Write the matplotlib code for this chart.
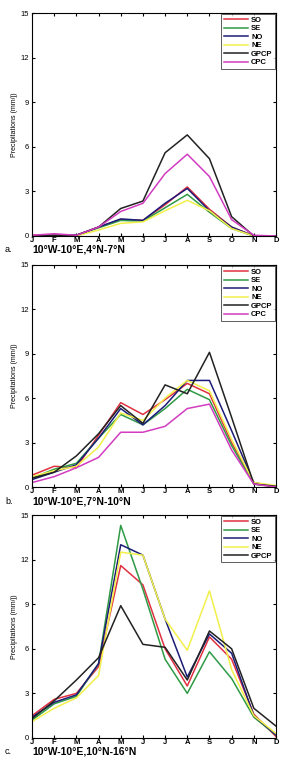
# Monthly precipitation over three latitude bands (3 stacked panels)
import numpy as np
import matplotlib.pyplot as plt

plt.rcParams['font.family'] = ['Liberation Sans', 'DejaVu Sans']

# Data
months = ["J", "F", "M", "A", "M", "J", "J", "A", "S", "O", "N", "D"]
yticks = [0, 3, 6, 9, 12, 15]

# panel a : 10W-10E, 4N-7N
a_SO   = [0.05, 0.1, 0.05, 0.6, 1.1, 1.05, 2.1, 3.3, 1.8, 0.6, 0.0, 0.0]
a_SE   = [0.0, 0.05, 0.05, 0.55, 1.05, 1.0, 1.9, 2.8, 1.6, 0.5, 0.0, 0.0]
a_NO   = [0.0, 0.05, 0.05, 0.6, 1.15, 1.05, 2.2, 3.2, 1.7, 0.6, 0.0, 0.0]
a_NE   = [0.0, 0.05, 0.0, 0.4, 0.85, 0.95, 1.7, 2.4, 1.7, 0.5, 0.0, 0.0]
a_GPCP = [0.0, 0.05, 0.05, 0.6, 1.85, 2.35, 5.6, 6.8, 5.2, 1.3, 0.0, 0.0]
a_CPC  = [0.05, 0.15, 0.05, 0.6, 1.65, 2.2, 4.2, 5.5, 4.0, 1.1, 0.05, 0.0]

# panel b : 10W-10E, 7N-10N
b_SO   = [0.8, 1.4, 1.3, 3.5, 5.7, 4.9, 5.9, 7.0, 6.3, 3.0, 0.3, 0.0]
b_SE   = [0.6, 1.2, 1.6, 3.3, 4.9, 4.2, 5.3, 6.6, 5.9, 2.8, 0.2, 0.0]
b_NO   = [0.5, 1.0, 1.5, 3.3, 5.3, 4.2, 5.5, 7.2, 7.2, 3.8, 0.3, 0.0]
b_NE   = [0.7, 1.1, 1.4, 2.7, 5.0, 4.5, 6.0, 7.2, 6.5, 3.2, 0.3, 0.1]
b_GPCP = [0.6, 1.0, 2.1, 3.6, 5.5, 4.3, 6.9, 6.3, 9.1, 4.7, 0.2, 0.05]
b_CPC  = [0.3, 0.7, 1.3, 2.0, 3.7, 3.7, 4.1, 5.3, 5.6, 2.5, 0.2, 0.0]

# panel c : 10W-10E, 10N-16N
c_SO   = [1.5, 2.6, 3.0, 4.8, 11.6, 10.3, 6.0, 3.5, 6.8, 5.3, 1.6, 0.1]
c_SE   = [1.2, 2.3, 2.8, 5.0, 14.3, 10.0, 5.3, 3.0, 5.8, 4.0, 1.4, 0.2]
c_NO   = [1.4, 2.4, 2.9, 5.0, 13.0, 12.3, 8.0, 4.1, 7.0, 5.7, 1.5, 0.2]
c_NE   = [1.1, 2.0, 2.7, 4.2, 12.5, 12.3, 8.0, 5.9, 9.9, 4.6, 1.5, 0.3]
c_GPCP = [1.3, 2.5, 3.9, 5.4, 8.9, 6.3, 6.1, 3.9, 7.2, 6.0, 2.0, 0.8]

colors = {"SO": "#e03040", "SE": "#2f9a45", "NO": "#1c1c78",
          "NE": "#f2f04a", "GPCP": "#222222", "CPC": "#d23cc0"}

panels = [
    ("a.", "10°W-10°E,4°N-7°N",
     {"SO": a_SO, "SE": a_SE, "NO": a_NO, "NE": a_NE, "GPCP": a_GPCP, "CPC": a_CPC}),
    ("b.", "10°W-10°E,7°N-10°N",
     {"SO": b_SO, "SE": b_SE, "NO": b_NO, "NE": b_NE, "GPCP": b_GPCP, "CPC": b_CPC}),
    ("c.", "10°W-10°E,10°N-16°N",
     {"SO": c_SO, "SE": c_SE, "NO": c_NO, "NE": c_NE, "GPCP": c_GPCP}),
]

fig = plt.figure(figsize=(2.81, 7.6), dpi=100)
W, H = 281, 760
boxes = [(13, 236), (265, 487), (515, 738)]  # top / bottom in pixels

x = np.arange(1, 13)
for (letter, title, series), (top, bot) in zip(panels, boxes):
    ax = fig.add_axes([32 / W, (H - bot) / H, 244 / W, (bot - top) / H])
    for name, vals in series.items():
        ax.plot(x, vals, color=colors[name], lw=1.1, label=name)
    ax.set_xlim(1, 12)
    ax.set_ylim(0, 15)
    ax.set_xticks(x)
    ax.set_xticklabels(months, fontsize=5.5, fontweight="bold")
    ax.set_yticks(yticks)
    ax.tick_params(axis="y", labelsize=5.5, direction="in", length=2, pad=2)
    ax.tick_params(axis="x", direction="in", length=2, pad=0.5)
    ax.tick_params(top=True, right=True)
    ax.set_ylabel("Precipitations (mm/j)", fontsize=5, labelpad=2)
    for s in ax.spines.values():
        s.set_linewidth(0.8)
    leg = ax.legend(loc="upper right", fontsize=5.5, frameon=True, fancybox=False,
                    edgecolor="#333333", handlelength=3.2, labelspacing=0.15,
                    borderpad=0.35, handletextpad=0.4, borderaxespad=0.1)
    leg.get_frame().set_linewidth(0.7)
    for t in leg.get_texts():
        t.set_fontweight("bold")
    fig.text(5 / W, 1 - (bot + 14) / H, letter, fontsize=6.5, va="center")
    fig.text(32 / W, 1 - (bot + 14) / H, title, fontsize=7.5,
             fontweight="bold", va="center")

fig.savefig("out.png", dpi=100)
